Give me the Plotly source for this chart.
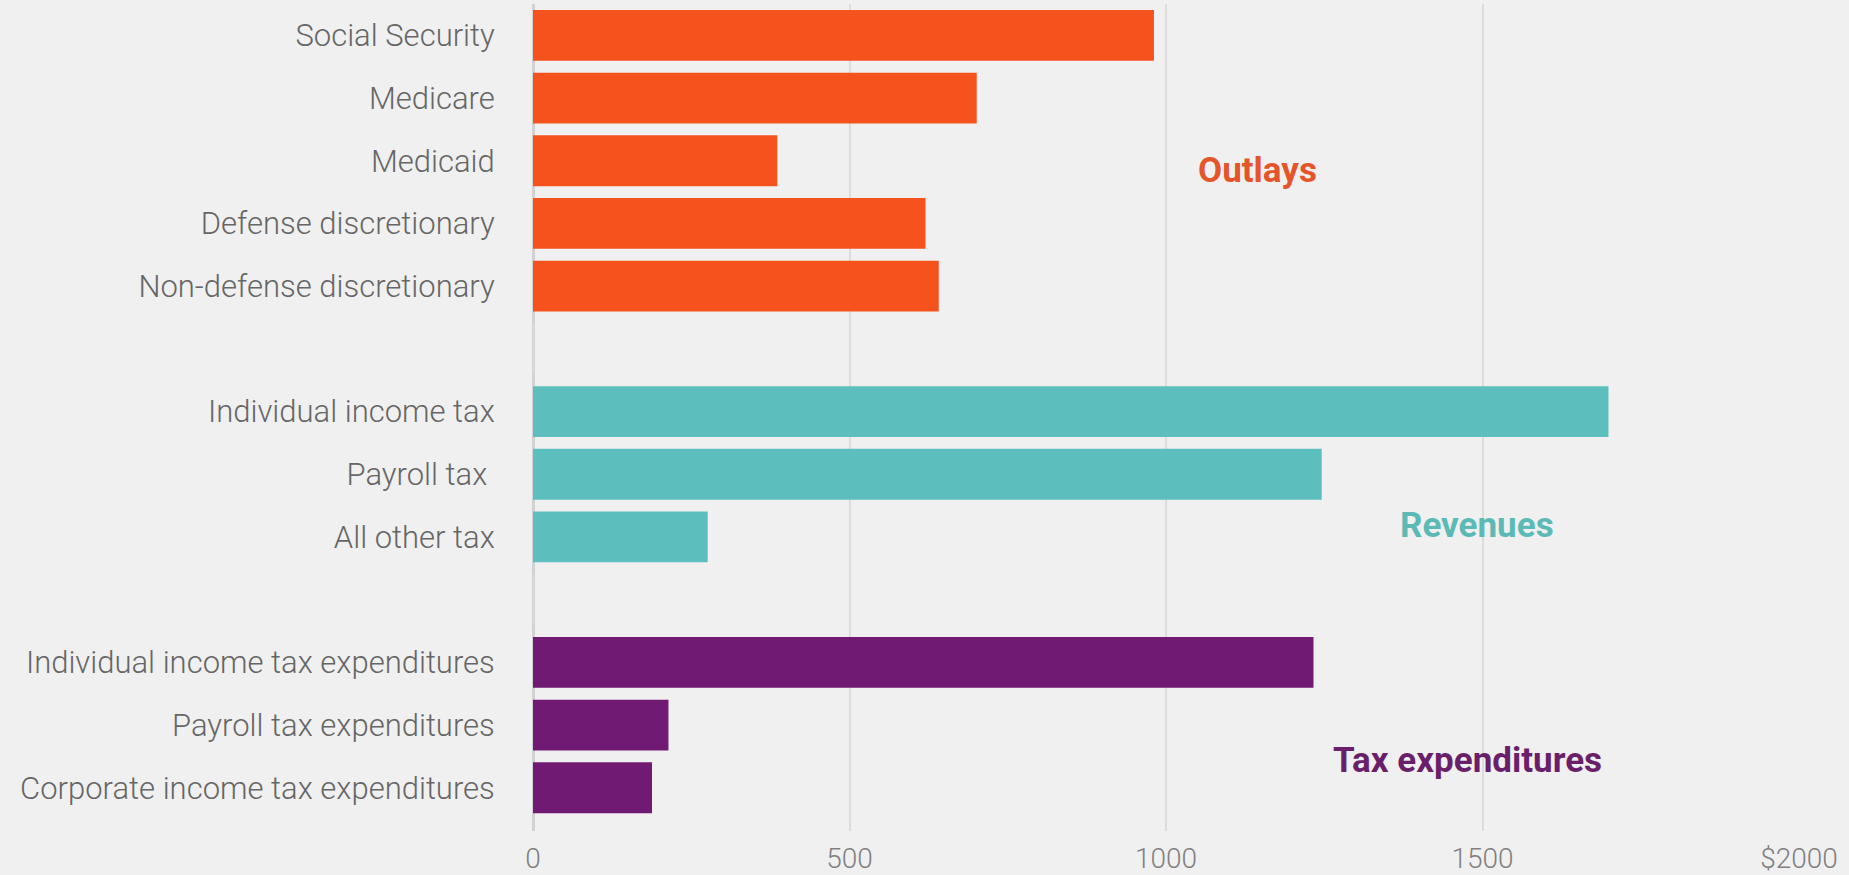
import plotly.graph_objects as go

# Federal budget components, billions of dollars
outlay_names = ["Social Security", "Medicare", "Medicaid",
                "Defense discretionary", "Non-defense discretionary"]
outlay_values = [981, 701, 386, 620, 641]

revenue_names = ["Individual income tax", "Payroll tax ", "All other tax"]
revenue_values = [1699, 1246, 276]

taxexp_names = ["Individual income tax expenditures", "Payroll tax expenditures",
                "Corporate income tax expenditures"]
taxexp_values = [1233, 214, 188]

# blank rows separating the three groups
spacer_names = [" ", "  "]

x_tick_values = [0, 500, 1000, 1500, 2000]
x_tick_labels = ["0", "500", "1000", "1500", "$2000"]

ORANGE = "#F5521E"
TEAL = "#5CBFBD"
PURPLE = "#701A74"
BG = "#F0F0F0"

category_order = outlay_names + [spacer_names[0]] + revenue_names + [spacer_names[1]] + taxexp_names

fig = go.Figure()
for names, values, color in [(outlay_names, outlay_values, ORANGE),
                             (revenue_names, revenue_values, TEAL),
                             (taxexp_names, taxexp_values, PURPLE)]:
    fig.add_trace(go.Bar(
        x=values, y=names, orientation="h",
        marker=dict(color=color, line=dict(width=0)),
        showlegend=False, hoverinfo="x+y",
    ))

# empty slots keep the gaps between groups
fig.add_trace(go.Bar(x=[0, 0], y=spacer_names, orientation="h",
                     marker=dict(color="rgba(0,0,0,0)"),
                     showlegend=False, hoverinfo="skip"))

group_labels = [
    ("Outlays", 1144, 2.15, "#E4552A"),
    ("Revenues", 1491, 7.82, "#5CBAB6"),
    ("Tax expenditures", 1477, 11.56, "#6A1F6B"),
]
for text, gx, gy, color in group_labels:
    fig.add_annotation(
        x=gx, y=gy, xref="x", yref="y", text=text, showarrow=False,
        xanchor="center", yanchor="middle",
        font=dict(family="Roboto, Liberation Sans, sans-serif", size=35,
                  color=color, weight="bold"),
    )

fig.update_layout(
    width=1849, height=875,
    paper_bgcolor=BG, plot_bgcolor=BG,
    margin=dict(l=533, r=50, t=4, b=44),
    bargap=0.19,
    barmode="overlay",
    font=dict(family="Roboto, Liberation Sans, sans-serif"),
    xaxis=dict(
        range=[0, 2000],
        tickmode="array", tickvals=x_tick_values, ticktext=x_tick_labels,
        showgrid=True, gridcolor="#DCDCDC", gridwidth=2,
        zeroline=True, zerolinecolor="#D2D2D2", zerolinewidth=3,
        showline=False,
        tickfont=dict(size=28, color="#808080", weight=300),
        ticks="outside", ticklen=2, tickcolor="rgba(0,0,0,0)",
        automargin=False,
        fixedrange=True,
    ),
    yaxis=dict(
        type="category",
        categoryorder="array", categoryarray=category_order,
        range=[12.69, -0.5],
        showgrid=False, zeroline=False, showline=False,
        tickfont=dict(size=31, color="#666666", weight=300),
        ticks="outside", ticklen=31, tickcolor="rgba(0,0,0,0)",
        automargin=False,
        fixedrange=True,
    ),
)

fig.write_html("out.html", config={"displayModeBar": False})
